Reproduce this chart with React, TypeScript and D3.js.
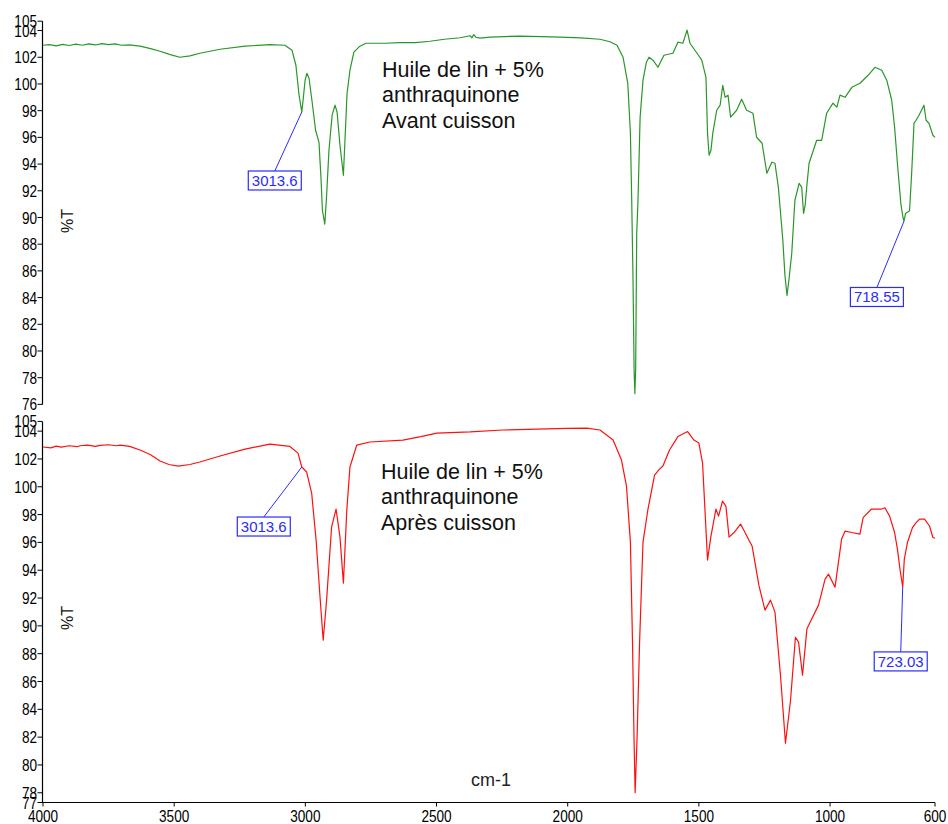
import React from 'react';
import * as d3 from 'd3';

// ---------- data ----------
const wavenumberTicks = [4000, 3500, 3000, 2500, 2000, 1500, 1000, 600];
const avantYTicks = [76, 78, 80, 82, 84, 86, 88, 90, 92, 94, 96, 98, 100, 102, 104, 104.7];
const apresYTicks = [77.3, 78, 80, 82, 84, 86, 88, 90, 92, 94, 96, 98, 100, 102, 104, 104.7];

const avantTitle = ['Huile de lin + 5%', 'anthraquinone', 'Avant cuisson'];
const apresTitle = ['Huile de lin + 5%', 'anthraquinone', 'Après cuisson'];

// [wavenumber (cm-1), %T]
const avantSpectrum: [number, number][] = [
  [4000, 102.9], [3975, 102.95], [3950, 102.85], [3925, 102.97], [3900, 102.88], [3875, 102.98],
  [3850, 102.9], [3825, 103.0], [3800, 102.92], [3775, 103.02], [3750, 102.95], [3725, 103.0],
  [3700, 102.9], [3670, 102.93], [3630, 102.83], [3590, 102.65], [3554, 102.45], [3515, 102.2],
  [3478, 102.0], [3440, 102.1], [3402, 102.3], [3325, 102.6], [3230, 102.83], [3135, 102.94],
  [3078, 102.9], [3051, 102.53], [3036, 101.4], [3024, 99.16], [3013.6, 97.9], [3008, 98.9],
  [3001, 100.28], [2994, 100.8], [2986, 100.43], [2975, 98.78], [2961, 96.53], [2948, 95.63],
  [2940, 92.79], [2935, 90.54], [2926, 89.5], [2920, 91.29], [2910, 95.03], [2898, 97.66],
  [2887, 98.41], [2879, 97.88], [2868, 95.41], [2855, 93.16], [2849, 95.78], [2841, 99.3],
  [2830, 101.03], [2815, 102.38], [2792, 102.83], [2769, 103.05], [2700, 103.05], [2639, 103.09],
  [2580, 103.1], [2525, 103.2], [2470, 103.35], [2410, 103.46], [2372, 103.61], [2365, 103.45],
  [2358, 103.7], [2350, 103.5], [2334, 103.43], [2296, 103.5], [2240, 103.55], [2182, 103.58],
  [2100, 103.55], [2029, 103.5], [1950, 103.45], [1877, 103.35], [1839, 103.16], [1812, 102.9],
  [1789, 102.0], [1771, 100.05], [1761, 96.31], [1756, 91.29], [1751, 85.29], [1747, 78.6],
  [1744, 76.8], [1741, 78.6], [1737, 88.82], [1732, 91.29], [1724, 97.51], [1713, 100.28],
  [1700, 101.63], [1690, 102.0], [1675, 101.78], [1656, 101.25], [1633, 102.15], [1599, 102.3],
  [1580, 103.13], [1561, 103.05], [1545, 104.03], [1534, 103.05], [1507, 102.3], [1489, 101.78],
  [1473, 100.5], [1467, 96.31], [1461, 94.66], [1454, 95.03], [1447, 96.31], [1432, 98.03],
  [1419, 98.41], [1409, 99.9], [1400, 99.0], [1389, 99.16], [1379, 97.51], [1356, 98.03],
  [1337, 98.86], [1318, 98.03], [1294, 97.81], [1280, 96.01], [1259, 95.56], [1241, 93.31],
  [1222, 94.14], [1210, 94.06], [1197, 92.26], [1180, 88.29], [1172, 85.67], [1164, 84.17],
  [1157, 85.29], [1146, 87.32], [1134, 91.29], [1118, 92.56], [1108, 92.26], [1101, 90.3],
  [1095, 90.9], [1089, 92.26], [1080, 94.06], [1051, 95.78], [1032, 95.78], [1013, 97.81],
  [989, 98.56], [974, 98.26], [962, 99.16], [943, 99.0], [917, 99.75], [886, 100.05],
  [855, 100.65], [829, 101.25], [803, 101.03], [784, 100.28], [765, 98.78], [754, 96.76],
  [742, 93.76], [730, 91.0], [722, 90.0], [718.55, 89.7], [712, 90.3], [705, 90.4],
  [697, 90.5], [689, 93.31], [680, 97.06], [672, 97.28], [661, 97.66], [642, 98.41],
  [634, 97.28], [623, 97.06], [608, 96.16], [600, 96.0],
];

const apresSpectrum: [number, number][] = [
  [4000, 102.86], [3970, 102.8], [3950, 102.92], [3930, 102.85], [3900, 102.95], [3870, 102.88],
  [3859, 102.95], [3830, 103.0], [3800, 102.9], [3783, 102.98], [3750, 103.02], [3720, 102.95],
  [3706, 103.0], [3670, 102.9], [3630, 102.64], [3590, 102.3], [3554, 101.85], [3520, 101.6],
  [3485, 101.49], [3440, 101.6], [3402, 101.78], [3325, 102.21], [3230, 102.71], [3135, 103.07],
  [3059, 102.9], [3028, 102.42], [3013.6, 101.42], [2995, 101.06], [2976, 99.55], [2959, 96.17],
  [2944, 92.06], [2932, 88.97], [2919, 91.85], [2900, 97.1], [2883, 98.4], [2868, 96.38],
  [2855, 93.07], [2842, 98.32], [2830, 101.42], [2804, 103.0], [2754, 103.22], [2628, 103.36],
  [2560, 103.6], [2499, 103.86], [2372, 103.94], [2247, 104.08], [2118, 104.15], [2000, 104.2],
  [1928, 104.22], [1877, 104.08], [1827, 103.36], [1795, 101.92], [1776, 100.05], [1761, 96.02],
  [1753, 88.83], [1747, 81.71], [1743, 78.0], [1736, 81.71], [1726, 88.83], [1713, 96.02],
  [1694, 98.4], [1669, 100.84], [1650, 101.27], [1637, 101.49], [1612, 102.64], [1580, 103.61],
  [1543, 103.97], [1519, 103.36], [1500, 103.14], [1486, 101.7], [1477, 98.4], [1467, 94.73],
  [1454, 96.45], [1435, 98.4], [1425, 97.89], [1410, 98.97], [1397, 98.61], [1385, 96.38],
  [1366, 96.71], [1341, 97.32], [1297, 95.73], [1271, 92.89], [1248, 91.13], [1227, 91.85],
  [1210, 90.99], [1189, 86.45], [1170, 81.56], [1151, 84.58], [1132, 89.18], [1120, 88.83],
  [1105, 86.45], [1088, 89.8], [1044, 91.49], [1019, 93.36], [1006, 93.72], [981, 92.78],
  [968, 94.58], [956, 96.24], [943, 96.81], [918, 96.71], [886, 96.6], [874, 97.78],
  [842, 98.4], [804, 98.4], [791, 98.49], [773, 97.89], [754, 96.71], [743, 95.5],
  [733, 94.0], [723.03, 92.8], [717, 94.8], [705, 95.99], [686, 97.06], [672, 97.42],
  [659, 97.68], [640, 97.68], [621, 97.18], [608, 96.35], [600, 96.3],
];

const avantPeaks = [
  { wn: 3013.6, t: 97.9, label: '3013.6' },
  { wn: 718.55, t: 89.7, label: '718.55' },
];
const apresPeaks = [
  { wn: 3013.6, t: 101.42, label: '3013.6' },
  { wn: 723.03, t: 92.8, label: '723.03' },
];

// ---------- layout ----------
const W = 948;
const H = 824;
const X0 = 43;
const X1 = 935;
const LABEL_OFFSETS = [
  [{ dx: -27, dy: 59 }, { dx: -27, dy: 66 }],
  [{ dx: -38, dy: 50 }, { dx: -2, dy: 65 }],
];

const panels = [
  {
    spectrum: avantSpectrum, peaks: avantPeaks, title: avantTitle, ticks: avantYTicks,
    domain: [76, 104.7], range: [404.4, 21.2], color: '#2a962a',
    titleX: 382, titleY: 77, yLabel: 221,
  },
  {
    spectrum: apresSpectrum, peaks: apresPeaks, title: apresTitle, ticks: apresYTicks,
    domain: [77.3, 104.7], range: [802.5, 421.4], color: '#ff1010',
    titleX: 381, titleY: 479, yLabel: 618,
  },
];

const FONT = 'Arial, "Liberation Sans", sans-serif';
const BLUE = '#2b2bff';

export default function App() {
  const x = d3.scaleLinear().domain([4000, 600]).range([X0, X1]);
  const bottomY = 802.5;

  return (
    <svg width={W} height={H} style={{ position: 'absolute', left: 0, top: 0, background: '#fff' }}
      fontFamily={FONT}>
      {panels.map((p, pi) => {
        const y = d3.scaleLinear().domain(p.domain).range(p.range);
        const line = d3.line<[number, number]>().x(d => x(d[0])).y(d => y(d[1]));
        return (
          <g key={pi}>
            {/* y axis */}
            <line x1={X0 - 0.5} x2={X0 - 0.5} y1={y(p.domain[1])} y2={y(p.domain[0])} stroke="#000" strokeWidth={1.2} />
            {p.ticks.map((t, i) => (
              <g key={i} transform={`translate(0,${y(t)})`}>
                <line x1={X0 - 5.5} x2={X0 - 0.5} y1={0} y2={0} stroke="#000" strokeWidth={1} />
                <g transform={`translate(${X0 - 6},0) scale(0.8,1)`}>
                  <text textAnchor="end" dominantBaseline="central" fontSize={17} fill="#000">
                    {Math.round(t)}
                  </text>
                </g>
              </g>
            ))}
            <text transform={`translate(73,${p.yLabel}) rotate(-90)`} textAnchor="middle" fontSize={16} fill="#111">%T</text>
            {/* spectrum */}
            <path d={line(p.spectrum) || ''} fill="none" stroke={p.color} strokeWidth={1.2} strokeLinejoin="round" />
            {/* title */}
            <text x={p.titleX} y={p.titleY} fontSize={21.5} fill="#111">
              {p.title.map((s, i) => (
                <tspan key={i} x={p.titleX} dy={i === 0 ? 0 : 25.3}>{s}</tspan>
              ))}
            </text>
            {/* peak labels */}
            {p.peaks.map((pk, i) => {
              const px = x(pk.wn);
              const py = y(pk.t);
              const off = LABEL_OFFSETS[pi][i];
              const bx = px + off.dx;
              const by = py + off.dy;
              const bw = 53;
              const bh = 19;
              return (
                <g key={i}>
                  <line x1={bx} y1={by} x2={px} y2={py} stroke={BLUE} strokeWidth={1} />
                  <rect x={bx - bw / 2} y={by} width={bw} height={bh} fill="#fff" stroke={BLUE} strokeWidth={1.2} />
                  <text x={bx} y={by + 15} textAnchor="middle" fontSize={15} fill={BLUE}>{pk.label}</text>
                </g>
              );
            })}
          </g>
        );
      })}
      {/* x axis */}
      <line x1={X0 - 1} x2={X1} y1={bottomY} y2={bottomY} stroke="#000" strokeWidth={1.2} />
      {wavenumberTicks.map((t, i) => (
        <g key={i} transform={`translate(${x(t)},${bottomY})`}>
          <line y1={0} y2={4} stroke="#000" strokeWidth={1} />
          <g transform="translate(0,19.5) scale(0.8,1)">
            <text textAnchor="middle" fontSize={17} fill="#000">{t}</text>
          </g>
        </g>
      ))}
      <text x={491} y={786} textAnchor="middle" fontSize={18} fill="#222">cm-1</text>
    </svg>
  );
}
